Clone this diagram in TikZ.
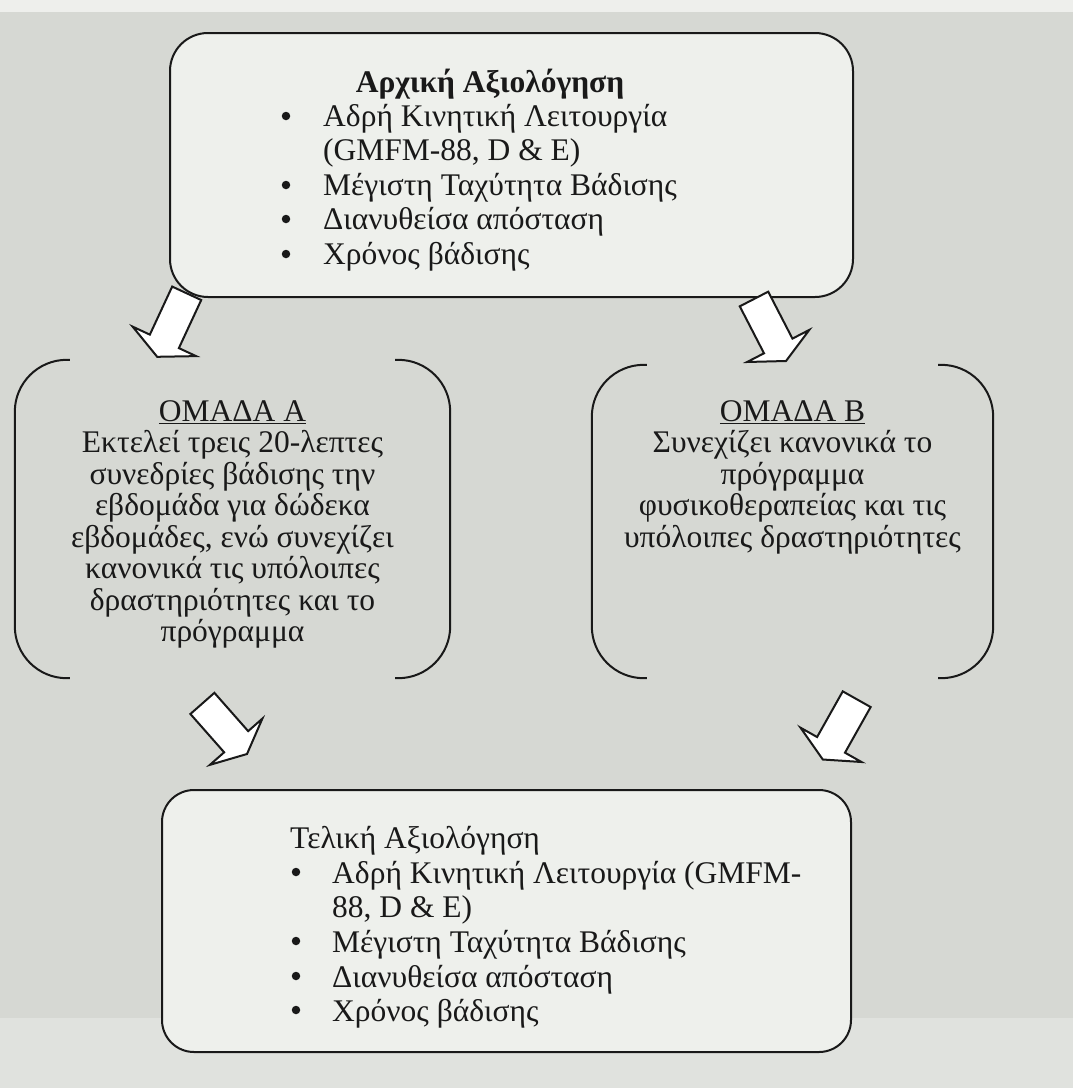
\documentclass[tikz,border=0pt]{standalone}
\usepackage{fontspec}
\setmainfont{Liberation Serif}
\usetikzlibrary{calc}
\definecolor{bg}{RGB}{214,216,211}
\definecolor{toplight}{RGB}{238,239,236}
\definecolor{botlight}{RGB}{224,226,222}
\definecolor{boxfill}{RGB}{238,240,236}
\definecolor{ink}{RGB}{25,25,25}
\newcommand{\fatarrow}[2]{%
  \path ($(#1)!0.757!(#2)$) coordinate (#1b);
  \draw[fatarrowstyle] ($(#1)!16pt!90:(#2)$) -- ($(#1b)!16pt!-90:(#1)$) -- ($(#1b)!35pt!-90:(#1)$) -- (#2)
     -- ($(#1b)!35pt!90:(#1)$) -- ($(#1b)!16pt!90:(#1)$) -- ($(#1)!16pt!-90:(#2)$) -- cycle;}
\begin{document}
\begin{tikzpicture}[x=1pt,y=-1pt,
  txt/.style={font=\fontsize{31.5}{34}\selectfont, inner sep=0pt, text=ink},
  txtb/.style={font=\fontsize{31.5}{34}\selectfont\bfseries, inner sep=0pt, text=ink},
  roundbox/.style={draw=ink, line width=2pt, fill=boxfill, inner sep=0pt},
  areabox/.style={inner sep=0pt},
  bracketline/.style={draw=ink, line width=2pt, rounded corners=52pt},
  bul/.style={circle, fill=ink, inner sep=0pt, minimum size=8.5pt},
  fatarrowstyle/.style={draw=ink, line width=2pt, fill=white, line join=miter}]
\useasboundingbox (0,0) rectangle (1073,1088);
\fill[bg] (0,0) rectangle (1073,1088);
\fill[toplight] (0,0) rectangle (1073,12);
\fill[botlight] (0,1018) rectangle (1073,1088);

% top box
\node[roundbox, rounded corners=38pt, minimum width=683pt, minimum height=264pt] (init) at (511.5,165) {};
\node[txtb, anchor=base] (initT) at (490,92) {Αρχική Αξιολόγηση};
\node[bul] (ib1) at (286,116) {};
\node[bul] (ib2) at (286,185) {};
\node[bul] (ib3) at (286,219) {};
\node[bul] (ib4) at (286,254) {};
\node[txt, anchor=base west] (i1) at (323,126) {Αδρή Κινητική Λειτουργία};
\node[txt, anchor=base west] (i2) at (323,160) {(GMFM-88, D \& E)};
\node[txt, anchor=base west] (i3) at (323,195) {Μέγιστη Ταχύτητα Βάδισης};
\node[txt, anchor=base west] (i4) at (323,229) {Διανυθείσα απόσταση};
\node[txt, anchor=base west] (i5) at (323,264) {Χρόνος βάδισης};

% group A
\node[areabox, minimum width=435pt, minimum height=318pt] (A) at (232.5,519) {};
\draw[bracketline] ([xshift=55pt]A.north west) -- (A.north west) -- (A.south west) -- ([xshift=55pt]A.south west);
\draw[bracketline] ([xshift=-55pt]A.north east) -- (A.north east) -- (A.south east) -- ([xshift=-55pt]A.south east);
\node[txt, anchor=base] (A1) at (232.5,421) {\underline{ΟΜΑΔΑ Α}};
\node[txt, anchor=base] (A2) at (232.5,452.5) {Εκτελεί τρεις 20-λεπτες};
\node[txt, anchor=base] (A3) at (232.5,484) {συνεδρίες βάδισης την};
\node[txt, anchor=base] (A4) at (232.5,515.5) {εβδομάδα για δώδεκα};
\node[txt, anchor=base] (A5) at (232.5,547) {εβδομάδες, ενώ συνεχίζει};
\node[txt, anchor=base] (A6) at (232.5,578.5) {κανονικά τις υπόλοιπες};
\node[txt, anchor=base] (A7) at (232.5,610) {δραστηριότητες και το};
\node[txt, anchor=base] (A8) at (232.5,641) {πρόγραμμα};

% group B
\node[areabox, minimum width=401pt, minimum height=313pt] (B) at (792.5,521.5) {};
\draw[bracketline] ([xshift=55pt]B.north west) -- (B.north west) -- (B.south west) -- ([xshift=55pt]B.south west);
\draw[bracketline] ([xshift=-55pt]B.north east) -- (B.north east) -- (B.south east) -- ([xshift=-55pt]B.south east);
\node[txt, anchor=base] (B1) at (792.5,421) {\underline{ΟΜΑΔΑ Β}};
\node[txt, anchor=base] (B2) at (792.5,452.5) {Συνεχίζει κανονικά το};
\node[txt, anchor=base] (B3) at (792.5,484) {πρόγραμμα};
\node[txt, anchor=base] (B4) at (792.5,515.5) {φυσικοθεραπείας και τις};
\node[txt, anchor=base] (B5) at (792.5,547) {υπόλοιπες δραστηριότητες};

% final box
\node[roundbox, rounded corners=32pt, minimum width=689pt, minimum height=262pt] (final) at (506.5,921) {};
\node[txt, anchor=base west] (finT) at (290,848) {Τελική Αξιολόγηση};
\node[bul] (fb1) at (296,872) {};
\node[bul] (fb2) at (296,941) {};
\node[bul] (fb3) at (296,976) {};
\node[bul] (fb4) at (296,1010) {};
\node[txt, anchor=base west] (f1) at (332,883) {Αδρή Κινητική Λειτουργία (GMFM-};
\node[txt, anchor=base west] (f2) at (332,917) {88, D \& E)};
\node[txt, anchor=base west] (f3) at (332,952) {Μέγιστη Ταχύτητα Βάδισης};
\node[txt, anchor=base west] (f4) at (332,987) {Διανυθείσα απόσταση};
\node[txt, anchor=base west] (f5) at (332,1021) {Χρόνος βάδισης};

% block arrows
\coordinate (a1s) at (186.7,293.3); \coordinate (a1t) at (157.2,356.8);
\coordinate (a2s) at (754,299);     \coordinate (a2t) at (786,361);
\coordinate (a3s) at (202.4,703.4); \coordinate (a3t) at (247,754);
\coordinate (a4s) at (856.7,699.2); \coordinate (a4t) at (822.8,759.5);
\fatarrow{a1s}{a1t}
\fatarrow{a2s}{a2t}
\fatarrow{a3s}{a3t}
\fatarrow{a4s}{a4t}
\end{tikzpicture}
\end{document}
